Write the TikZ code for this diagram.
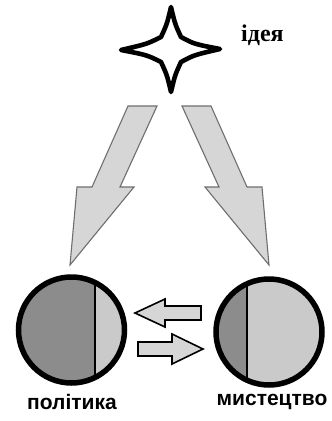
\documentclass[tikz,border=0pt]{standalone}
\usepackage{fontspec}
\setmainfont{Liberation Serif}
\setsansfont{Liberation Sans}
\usetikzlibrary{positioning}
\definecolor{darkpart}{HTML}{8C8C8C}
\definecolor{lightpart}{HTML}{CACACA}
\definecolor{arrowfill}{HTML}{D6D6D6}
\definecolor{arrowedge}{HTML}{6E6E6E}
\begin{document}
\begin{tikzpicture}[x=1pt, y=-1pt,
            bigarrow/.style={fill=arrowfill, draw=arrowedge, line width=1.1pt},
            smallarrow/.style={fill=arrowfill, draw=black, line width=1.6pt},
            ring/.style={circle, draw=black, line width=5.5pt, minimum size=106pt, inner sep=0pt},
            caption/.style={font=\sffamily\bfseries\fontsize{21}{23}\selectfont, inner sep=0pt}
            ]
            \useasboundingbox (0,0) rectangle (332,421);

            % star of the idea
            \coordinate (star) at (171,49);
            \draw[line width=4.6pt, line join=round, fill=white]
                (171,7) .. controls (175,24) .. (181,37)
                .. controls (194,44) .. (220,49)
                .. controls (194,55) .. (181,62)
                .. controls (175,75) .. (171,92)
                .. controls (167,75) .. (161,62)
                .. controls (147,55) .. (121,50)
                .. controls (147,44) .. (161,37)
                .. controls (167,24) .. (171,7) -- cycle;
            \node[font=\bfseries\fontsize{24}{26}\selectfont, inner sep=0pt, anchor=base west] (idea) at (241,41) {ідея};

            % arrows down from the idea
            \draw[bigarrow] (128,106) -- (157,106) -- (120,187) -- (134,187) -- (70,265) -- (77,187) -- (92,187) -- cycle;
            \draw[bigarrow] (211,106) -- (182,106) -- (219,187) -- (205,187) -- (269,265) -- (262,187) -- (247,187) -- cycle;

            % the two circles
            \foreach \name/\cx/\cy/\split in {politics/71.5/330/95, art/269/332/247} {
                \begin{scope}
                    \clip (\cx,\cy) circle[radius=53];
                    \fill[lightpart] (\cx-60,\cy-60) rectangle (\cx+60,\cy+60);
                    \fill[darkpart] (\cx-60,\cy-60) rectangle (\split,\cy+60);
                    \draw[line width=1.5pt] (\split,\cy-60) -- (\split,\cy+60);
                \end{scope}
                \node[ring] (\name) at (\cx,\cy) {};
            }

            % exchange between them
            \draw[smallarrow] (135,313) -- (165,299) -- (165,306) -- (201,306) -- (201,320) -- (165,320) -- (165,327) -- cycle;
            \draw[smallarrow] (203,349) -- (172,334) -- (172,342) -- (138,342) -- (138,356) -- (172,356) -- (172,364) -- cycle;

            \node[caption, anchor=base] (politicslabel) at (72,409) {політика};
            \node[caption, anchor=base] (artlabel) at (272,405) {мистецтво};

            \end{tikzpicture}
\end{document}
